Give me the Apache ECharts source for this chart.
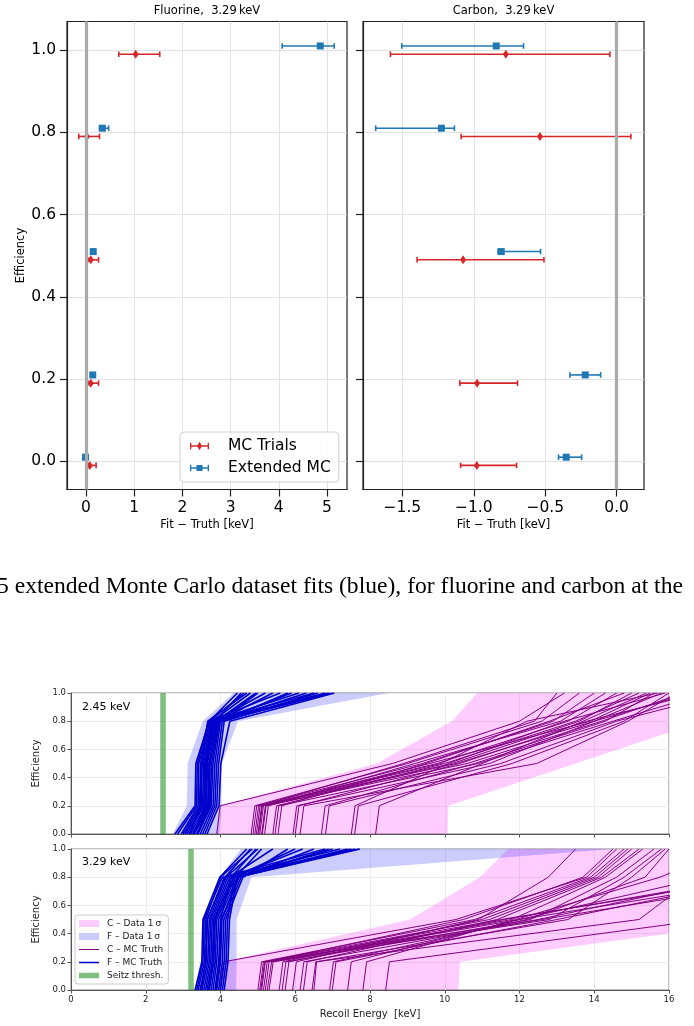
<!DOCTYPE html>
<html><head><meta charset="utf-8">
<script src="https://cdn.jsdelivr.net/npm/echarts@6/dist/echarts.min.js"></script>
<style>html,body{margin:0;padding:0;background:#fff;}#c{width:694px;height:1026px;}</style>
</head><body><div id="c"></div>
<script>
// ================= TOP FIGURE DATA =================
const efficiencies = [1.0, 0.8, 0.5, 0.2, 0.0];
const dodge = 0.01; // MC Trials plotted 0.01 below, Extended MC 0.01 above
const fluorineTrialsFit = [1.03, 0.02, 0.10, 0.10, 0.08];
const fluorineTrialsLo  = [0.68, -0.15, 0.04, 0.04, 0.04];
const fluorineTrialsHi  = [1.53, 0.28, 0.26, 0.26, 0.21];
const fluorineExtFit = [4.86, 0.34, 0.15, 0.14, -0.01];
const fluorineExtLo  = [4.07, 0.28, 0.14, 0.13, -0.04];
const fluorineExtHi  = [5.15, 0.47, 0.17, 0.16, 0.03];
const carbonTrialsFit = [-0.776, -0.537, -1.075, -0.977, -0.979];
const carbonTrialsLo  = [-1.584, -1.089, -1.397, -1.098, -1.093];
const carbonTrialsHi  = [-0.047, 0.100, -0.509, -0.694, -0.701];
const carbonExtFit = [-0.843, -1.227, -0.808, -0.220, -0.353];
const carbonExtLo  = [-1.505, -1.687, -0.830, -0.327, -0.407];
const carbonExtHi  = [-0.652, -1.136, -0.533, -0.112, -0.245];
const fluorineXTicks = [0, 1, 2, 3, 4, 5];
const carbonXTicks = [-1.5, -1.0, -0.5, 0.0];
const effTicks = [0, 0.2, 0.4, 0.6, 0.8, 1.0];
const topTitles = ['Fluorine,  3.29\u2009keV', 'Carbon,  3.29\u2009keV'];
const caption = '5 extended Monte Carlo dataset fits (blue), for fluorine and carbon at the';

// ================= BOTTOM FIGURE DATA =================
const effLevels = [0, 0.2, 0.5, 0.8, 1.0];
const panelLabels = ['2.45 keV', '3.29 keV'];
const seitzThresh = [2.45, 3.20];
// bands: recoil energy of left / right 1-sigma edge at each efficiency level
const fBandLeft245  = [2.72, 3.10, 3.12, 3.52, 4.35];
const fBandRight245 = [3.97, 4.03, 4.03, 4.47, 8.50];
const cBandLeft245  = [3.88, 3.99, 8.18, 10.19, 10.87];
const cBandRight245 = [10.07, 10.10, 13.50, 16.90, 18.40];
const fBandLeft329  = [3.30, 3.52, 3.52, 3.97, 4.55];
const fBandRight329 = [4.42, 4.43, 4.43, 4.83, 14.50];
const cBandLeft329  = [4.05, 4.08, 9.07, 10.94, 11.70];
const cBandRight329 = [10.36, 10.41, 18.80, 27.20, 32.80];
// MC truth curves: energy at efficiency 0, 0.2, 0.5, 0.8, 1.0
const fTruth245 = [
  [2.78, 3.32, 3.34, 3.70, 4.45], [2.85, 3.36, 3.38, 3.68, 5.60], [2.95, 3.40, 3.42, 3.72, 4.62],
  [3.00, 3.44, 3.47, 3.75, 6.10], [3.05, 3.48, 3.51, 3.78, 4.80], [3.10, 3.52, 3.55, 3.80, 6.50],
  [3.15, 3.55, 3.58, 3.82, 5.20], [3.20, 3.60, 3.63, 3.85, 6.80], [3.25, 3.63, 3.65, 3.88, 4.95],
  [3.28, 3.66, 3.70, 3.90, 7.00], [3.30, 3.70, 3.72, 3.92, 5.40], [3.36, 3.72, 3.76, 3.95, 6.30],
  [3.40, 3.75, 3.80, 3.97, 5.00], [3.46, 3.80, 3.85, 4.00, 6.90], [3.52, 3.85, 3.90, 4.05, 5.80],
  [3.58, 3.90, 3.95, 4.10, 6.60], [3.64, 3.96, 4.01, 4.25, 7.05], [3.30, 3.58, 3.60, 3.85, 4.55],
  [3.38, 3.68, 3.69, 3.95, 5.90], [3.18, 3.46, 3.48, 3.66, 4.70]
];
const cTruth245 = [
  [3.90, 3.99, 8.60, 12.00, 13.20], [4.82, 4.92, 9.00, 12.60, 13.60], [4.87, 4.97, 9.40, 12.90, 14.00],
  [4.92, 5.02, 9.80, 13.30, 14.60], [4.96, 5.06, 8.90, 12.40, 13.00], [5.00, 5.10, 10.20, 13.60, 15.00],
  [5.05, 5.15, 9.60, 13.90, 15.50], [5.10, 5.20, 10.60, 14.20, 16.40], [5.18, 5.28, 9.20, 13.10, 14.30],
  [5.40, 5.50, 10.00, 13.50, 15.20], [5.46, 5.56, 10.90, 14.50, 17.00], [5.54, 5.64, 9.50, 12.80, 14.80],
  [5.94, 6.04, 11.20, 14.00, 15.80], [6.00, 6.10, 10.40, 13.80, 16.80], [6.13, 6.23, 12.46, 14.90, 16.20],
  [6.70, 6.80, 10.80, 14.30, 15.60], [6.81, 6.91, 11.50, 14.60, 17.50], [7.50, 7.60, 10.10, 13.20, 15.90],
  [7.59, 7.69, 11.80, 14.80, 16.00], [8.15, 8.25, 11.00, 13.70, 15.40], [5.02, 5.12, 9.90, 12.20, 15.70],
  [5.12, 5.22, 10.30, 14.00, 16.60]
];
const fTruth329 = [
  [3.32, 3.50, 3.53, 3.98, 4.70], [3.36, 3.53, 3.56, 4.05, 6.80], [3.40, 3.57, 3.60, 4.00, 4.85],
  [3.45, 3.62, 3.65, 4.10, 7.20], [3.50, 3.66, 3.70, 4.15, 5.00], [3.55, 3.70, 3.74, 4.20, 7.70],
  [3.60, 3.74, 3.78, 4.25, 5.40], [3.64, 3.78, 3.82, 4.30, 6.20], [3.70, 3.82, 3.86, 4.35, 7.50],
  [3.75, 3.86, 3.90, 4.40, 5.10], [3.80, 3.90, 3.95, 4.45, 6.90], [3.85, 3.95, 4.00, 4.28, 4.95],
  [3.90, 4.00, 4.04, 4.50, 7.00], [3.95, 4.05, 4.09, 4.55, 6.50], [4.00, 4.10, 4.14, 4.60, 5.80],
  [4.05, 4.15, 4.19, 4.38, 7.40], [4.10, 4.20, 4.24, 4.45, 7.73], [3.48, 3.60, 3.64, 4.12, 4.80],
  [3.68, 3.80, 3.84, 4.36, 6.00], [3.88, 3.98, 4.02, 4.48, 7.60]
];
const cTruth329 = [
  [3.98, 4.08, 10.30, 13.80, 14.60], [5.00, 5.10, 10.80, 13.90, 14.80], [5.05, 5.15, 11.20, 14.10, 15.00],
  [5.10, 5.20, 11.50, 18.50, 21.00], [5.15, 5.25, 10.50, 13.70, 14.50], [5.20, 5.30, 11.80, 14.30, 15.30],
  [5.25, 5.37, 12.00, 19.00, 22.00], [5.57, 5.67, 11.00, 14.00, 14.90], [5.65, 5.75, 12.30, 14.60, 15.60],
  [5.73, 5.83, 11.60, 18.20, 21.00], [5.93, 6.03, 10.90, 12.77, 13.50], [6.13, 6.23, 12.50, 17.80, 20.00],
  [6.22, 6.32, 11.40, 14.20, 15.20], [6.45, 6.55, 15.20, 16.70, 18.00], [6.92, 7.02, 12.20, 15.36, 16.00],
  [6.99, 7.09, 13.00, 18.60, 21.00], [7.81, 7.91, 11.90, 15.76, 17.60], [8.42, 8.52, 17.00, 20.00, 22.00],
  [5.30, 5.41, 12.80, 14.80, 15.80], [6.50, 6.57, 13.30, 15.00, 15.90], [5.08, 5.18, 12.60, 19.50, 22.00],
  [7.40, 7.50, 12.00, 17.00, 19.00]
];

// ================= STYLES =================
const RED = '#d62728', BLUE = '#1f77b4';
const PURPLE = '#800080', FBLUE = '#0000cd';
const PINK = 'rgba(255,0,255,0.2)', LAV = 'rgba(0,0,255,0.2)', GREEN = 'rgba(0,128,0,0.5)';
const FONT = '"DejaVu Sans", sans-serif';
const NAMES = { cData: 'C \u2013 Data 1\u2009\u03c3', fData: 'F \u2013 Data 1\u2009\u03c3',
  cTruth: 'C \u2013 MC Truth', fTruth: 'F \u2013 MC Truth', seitz: 'Seitz thresh.' };

function clipPoly(pts, x0, y0, x1, y1) {
  const edges = [
    [p => p[0] >= x0, (a, b) => { const t = (x0 - a[0]) / (b[0] - a[0]); return [x0, a[1] + t * (b[1] - a[1])]; }],
    [p => p[0] <= x1, (a, b) => { const t = (x1 - a[0]) / (b[0] - a[0]); return [x1, a[1] + t * (b[1] - a[1])]; }],
    [p => p[1] >= y0, (a, b) => { const t = (y0 - a[1]) / (b[1] - a[1]); return [a[0] + t * (b[0] - a[0]), y0]; }],
    [p => p[1] <= y1, (a, b) => { const t = (y1 - a[1]) / (b[1] - a[1]); return [a[0] + t * (b[0] - a[0]), y1]; }]
  ];
  let out = pts;
  for (const [inside, inter] of edges) {
    const inp = out; out = [];
    for (let i = 0; i < inp.length; i++) {
      const cur = inp[i], prev = inp[(i + inp.length - 1) % inp.length];
      if (inside(cur)) { if (!inside(prev)) out.push(inter(prev, cur)); out.push(cur); }
      else if (inside(prev)) out.push(inter(prev, cur));
    }
  }
  return out;
}

function errRender(color) {
  return function (params, api) {
    const y = api.value(1), lo = api.value(2), hi = api.value(3);
    const a = api.coord([lo, y]), b = api.coord([hi, y]);
    const cap = 2.8, st = { stroke: color, lineWidth: 1.6 };
    return { type: 'group', children: [
      { type: 'line', shape: { x1: a[0], y1: a[1], x2: b[0], y2: b[1] }, style: st },
      { type: 'line', shape: { x1: a[0], y1: a[1] - cap, x2: a[0], y2: a[1] + cap }, style: st },
      { type: 'line', shape: { x1: b[0], y1: b[1] - cap, x2: b[0], y2: b[1] + cap }, style: st }
    ] };
  };
}

function errSeries(name, color, symbol, size, fit, lo, hi, off, idx) {
  const rows = efficiencies.map((e, i) => [fit[i], e + off, lo[i], hi[i]]);
  return [
    { type: 'custom', name, xAxisIndex: idx, yAxisIndex: idx, renderItem: errRender(color),
      itemStyle: { color }, encode: { x: [0, 2, 3], y: 1 }, data: rows, z: 3, silent: true },
    { type: 'scatter', name, xAxisIndex: idx, yAxisIndex: idx, symbol, symbolSize: size,
      itemStyle: { color, opacity: 1 }, data: rows.map(r => [r[0], r[1]]), z: 4, silent: true }
  ];
}

function bandSeries(name, left, right, color, idx) {
  const rows = effLevels.map((e, i) => [left[i], e, right[i]]);
  return { type: 'custom', name, xAxisIndex: idx, yAxisIndex: idx, silent: true, z: 1,
    itemStyle: { color }, encode: { x: [0, 2], y: 1 }, data: rows,
    renderItem(params, api) {
      if (params.dataIndex !== 0) return null;
      const pts = [];
      for (let i = 0; i < effLevels.length; i++) pts.push(api.coord([left[i], effLevels[i]]));
      for (let i = effLevels.length - 1; i >= 0; i--) pts.push(api.coord([right[i], effLevels[i]]));
      const cs = params.coordSys;
      return { type: 'polygon', shape: { points: clipPoly(pts, cs.x, cs.y, cs.x + cs.width, cs.y + cs.height) },
        style: { fill: color } };
    } };
}

function truthSeries(name, curves, color, width, idx) {
  return curves.map(c => ({ type: 'line', name, xAxisIndex: idx, yAxisIndex: idx, symbol: 'none',
    silent: true, z: 3, lineStyle: { color, width }, itemStyle: { color },
    data: c.map((E, i) => [E, effLevels[i]]) }));
}

const grids = [
  { left: 67, top: 21.5, width: 280, height: 468 },
  { left: 363, top: 21.5, width: 281, height: 468 },
  { left: 71, top: 693, width: 598, height: 141 },
  { left: 71, top: 849, width: 598, height: 141 }
].map(g => Object.assign({ show: true, borderColor: '#222', borderWidth: 1.2, backgroundColor: 'transparent' }, g));
grids[2].borderColor = grids[3].borderColor = '#808080';
grids[2].borderWidth = grids[3].borderWidth = 1;

const topAxisLine = { show: true, onZero: false, lineStyle: { color: '#222', width: 1.2 } };
const topTick = { show: true, length: 7, lineStyle: { color: '#222', width: 1.2 } };
const topSplit = { show: true, lineStyle: { color: '#e2e2e2', width: 1 } };
const botAxisLine = { show: true, onZero: false, lineStyle: { color: '#555', width: 1 } };
const botTick = { show: true, length: 3.5, lineStyle: { color: '#555', width: 1 } };
const botSplit = { show: true, lineStyle: { color: '#ececec', width: 1 } };
const fmtMinus = v => (v < 0 ? '\u2212' : '') + Math.abs(v).toFixed(1);

const xAxes = [
  { gridIndex: 0, type: 'value', min: -0.394, max: 5.415, axisLine: topAxisLine,
    axisTick: Object.assign({ customValues: fluorineXTicks }, topTick), splitLine: topSplit,
    axisLabel: { customValues: fluorineXTicks, fontSize: 15.5, color: '#000', fontFamily: FONT, margin: 10, formatter: v => String(v) },
    name: 'Fit \u2212 Truth [keV]', nameLocation: 'middle', nameGap: 30, nameTextStyle: { fontSize: 11.5, fontFamily: FONT, color: '#000' } },
  { gridIndex: 1, type: 'value', min: -1.776, max: 0.1916, axisLine: topAxisLine,
    axisTick: Object.assign({ customValues: carbonXTicks }, topTick), splitLine: topSplit,
    axisLabel: { customValues: carbonXTicks, fontSize: 15.5, color: '#000', fontFamily: FONT, margin: 10, formatter: fmtMinus },
    name: 'Fit \u2212 Truth [keV]', nameLocation: 'middle', nameGap: 30, nameTextStyle: { fontSize: 11.5, fontFamily: FONT, color: '#000' } },
  { gridIndex: 2, type: 'value', min: 0, max: 16, interval: 2, axisLine: botAxisLine, axisTick: botTick,
    splitLine: botSplit, axisLabel: { show: false } },
  { gridIndex: 3, type: 'value', min: 0, max: 16, interval: 2, axisLine: botAxisLine, axisTick: botTick,
    splitLine: botSplit, axisLabel: { fontSize: 8.5, color: '#222', fontFamily: FONT, margin: 5 },
    name: 'Recoil Energy  [keV]', nameLocation: 'middle', nameGap: 19, nameTextStyle: { fontSize: 10, fontFamily: FONT, color: '#222' } }
];
const yAxes = [
  { gridIndex: 0, type: 'value', min: -0.0686, max: 1.0695, axisLine: topAxisLine,
    axisTick: Object.assign({ customValues: effTicks }, topTick), splitLine: topSplit,
    axisLabel: { customValues: effTicks, fontSize: 15.5, color: '#000', fontFamily: FONT, margin: 11, formatter: v => v.toFixed(1) },
    name: 'Efficiency', nameLocation: 'middle', nameGap: 40, nameTextStyle: { fontSize: 11.5, fontFamily: FONT, color: '#000' } },
  { gridIndex: 1, type: 'value', min: -0.0686, max: 1.0695, axisLine: topAxisLine,
    axisTick: Object.assign({ customValues: effTicks }, topTick), splitLine: topSplit,
    axisLabel: { show: false } },
  { gridIndex: 2, type: 'value', min: 0, max: 1, interval: 0.2, axisLine: botAxisLine, axisTick: botTick, splitLine: botSplit,
    axisLabel: { fontSize: 8.5, color: '#222', fontFamily: FONT, margin: 5, formatter: v => v.toFixed(1) },
    name: 'Efficiency', nameLocation: 'middle', nameGap: 12, nameTextStyle: { fontSize: 10, fontFamily: FONT, color: '#222' } },
  { gridIndex: 3, type: 'value', min: 0, max: 1, interval: 0.2, axisLine: botAxisLine, axisTick: botTick, splitLine: botSplit,
    axisLabel: { fontSize: 8.5, color: '#222', fontFamily: FONT, margin: 5, formatter: v => v.toFixed(1) },
    name: 'Efficiency', nameLocation: 'middle', nameGap: 12, nameTextStyle: { fontSize: 10, fontFamily: FONT, color: '#222' } }
];

const series = [];
// zero reference lines (top figure)
[0, 1].forEach(idx => series.push({ type: 'line', name: 'zero', xAxisIndex: idx, yAxisIndex: idx, data: [], z: 2,
  markLine: { silent: true, symbol: 'none', label: { show: false }, animation: false,
    lineStyle: { color: '#aaaaaa', width: 3.2, type: 'solid' }, data: [{ xAxis: 0 }] } }));
series.push(...errSeries('MC Trials', RED, 'diamond', [6, 9], fluorineTrialsFit, fluorineTrialsLo, fluorineTrialsHi, -dodge, 0));
series.push(...errSeries('Extended MC', BLUE, 'rect', 7, fluorineExtFit, fluorineExtLo, fluorineExtHi, dodge, 0));
series.push(...errSeries('MC Trials', RED, 'diamond', [6, 9], carbonTrialsFit, carbonTrialsLo, carbonTrialsHi, -dodge, 1));
series.push(...errSeries('Extended MC', BLUE, 'rect', 7, carbonExtFit, carbonExtLo, carbonExtHi, dodge, 1));

// bottom figure
const bottomSets = [
  { idx: 2, fl: fBandLeft245, fr: fBandRight245, cl: cBandLeft245, cr: cBandRight245, ft: fTruth245, ct: cTruth245, s: seitzThresh[0] },
  { idx: 3, fl: fBandLeft329, fr: fBandRight329, cl: cBandLeft329, cr: cBandRight329, ft: fTruth329, ct: cTruth329, s: seitzThresh[1] }
];
bottomSets.forEach(b => {
  series.push(bandSeries(NAMES.cData, b.cl, b.cr, PINK, b.idx));
  series.push(bandSeries(NAMES.fData, b.fl, b.fr, LAV, b.idx));
  series.push(...truthSeries(NAMES.cTruth, b.ct, PURPLE, 1, b.idx));
  series.push(...truthSeries(NAMES.fTruth, b.ft, FBLUE, 1.6, b.idx));
  series.push({ type: 'line', name: NAMES.seitz, xAxisIndex: b.idx, yAxisIndex: b.idx, data: [], z: 2,
    lineStyle: { color: GREEN, width: 5 }, itemStyle: { color: GREEN },
    markLine: { silent: true, symbol: 'none', label: { show: false }, animation: false,
      lineStyle: { color: GREEN, width: 5.5, type: 'solid' }, data: [{ xAxis: b.s }] } });
});

const iconBase = 'M0,4.3H20V5.7H0Z M0,1.6H1.4V8.4H0Z M18.6,1.6H20V8.4H18.6Z M10,0h0.01v0.01h-0.01Z M10,9.99h0.01v0.01h-0.01Z ';
const lineBox = 'M10,0h0.01v0.01h-0.01Z M10,6.99h0.01v0.01h-0.01Z ';
const legends = [
  { left: 180, top: 432, orient: 'vertical', padding: [6, 8, 6, 10], itemGap: 6, itemWidth: 19, itemHeight: 9.5,
    borderColor: '#d0d0d0', borderWidth: 1, borderRadius: 4, backgroundColor: 'rgba(255,255,255,0.85)',
    textStyle: { fontSize: 15.5, fontFamily: FONT, color: '#000', padding: [0, 0, 0, 14] },
    data: [
      { name: 'MC Trials', icon: 'path://' + iconBase + 'M10,0.5L12.6,5L10,9.5L7.4,5Z', itemStyle: { color: RED } },
      { name: 'Extended MC', icon: 'path://' + iconBase + 'M6.8,1.8H13.2V8.2H6.8Z', itemStyle: { color: BLUE } }
    ] },
  { left: 75, top: 915, orient: 'vertical', padding: [4, 5, 4, 4], itemGap: 4, itemWidth: 20, itemHeight: 7,
    borderColor: '#cccccc', borderWidth: 1, borderRadius: 3, backgroundColor: 'rgba(255,255,255,0.85)',
    textStyle: { fontSize: 9, fontFamily: FONT, color: '#222', padding: [0, 0, 0, 3] },
    data: [
      { name: NAMES.cData, icon: 'rect', itemStyle: { color: PINK } },
      { name: NAMES.fData, icon: 'rect', itemStyle: { color: LAV } },
      { name: NAMES.cTruth, icon: 'path://' + lineBox + 'M0,3H20V4H0Z', itemStyle: { color: PURPLE } },
      { name: NAMES.fTruth, icon: 'path://' + lineBox + 'M0,2.7H20V4.3H0Z', itemStyle: { color: FBLUE } },
      { name: NAMES.seitz, icon: 'path://' + lineBox + 'M0,0.8H20V6.2H0Z', itemStyle: { color: GREEN } }
    ] }
];

const graphics = [
  { type: 'text', x: 207, y: 11, style: { text: topTitles[0], font: '11.5px ' + FONT, fill: '#000', textAlign: 'center', textVerticalAlign: 'middle', align: 'center', verticalAlign: 'middle' } },
  { type: 'text', x: 503.5, y: 11, style: { text: topTitles[1], font: '11.5px ' + FONT, fill: '#000', textAlign: 'center', textVerticalAlign: 'middle', align: 'center', verticalAlign: 'middle' } },
  { type: 'text', x: -3, y: 587, style: { text: caption, font: '23.6px "Liberation Serif", serif', fill: '#000', textVerticalAlign: 'middle', verticalAlign: 'middle' } },
  { type: 'text', x: 82, y: 707, style: { text: panelLabels[0], font: '11px ' + FONT, fill: '#000', textVerticalAlign: 'middle', verticalAlign: 'middle' } },
  { type: 'text', x: 82, y: 862, style: { text: panelLabels[1], font: '11px ' + FONT, fill: '#000', textVerticalAlign: 'middle', verticalAlign: 'middle' } }
];

const chart = echarts.init(document.getElementById('c'), null, { renderer: 'canvas' });
chart.setOption({
  animation: false,
  backgroundColor: '#fff',
  grid: grids, xAxis: xAxes, yAxis: yAxes, series, legend: legends, graphic: graphics
});
</script></body></html>
